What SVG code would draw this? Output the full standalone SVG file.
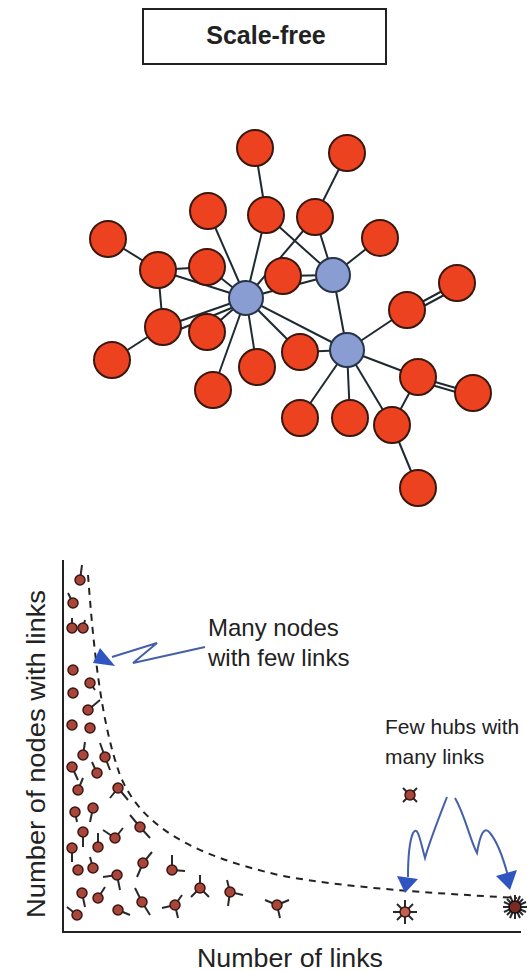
<svg xmlns="http://www.w3.org/2000/svg" width="530" height="973" viewBox="0 0 530 973">
<style>
.e{stroke:#1e2a30;stroke-width:2;fill:none}
.r{fill:#ec4220;stroke:#3a1810;stroke-width:2}
.b{fill:#8a9dd2;stroke:#26344a;stroke-width:2}
.t{font-family:"Liberation Sans",Arial,sans-serif;fill:#222}
.sp{stroke:#2a2a2a;stroke-width:2;fill:none}
.ax{stroke:#222;stroke-width:2;fill:none}
.bl{stroke:#4460a8;stroke-width:2;fill:none}
.ah{fill:#2f55c0}
</style>
<rect width="530" height="973" fill="#fff"/>
<g id="title">
<rect x="143" y="9" width="243" height="55" fill="#fff" stroke="#222" stroke-width="2"/>
<text class="t" x="266" y="44" font-size="25" font-weight="bold" text-anchor="middle">Scale-free</text>
</g>
<g id="edges">
<line class="e" x1="255" y1="148" x2="266" y2="215"/>
<line class="e" x1="347" y1="153" x2="315" y2="217"/>
<line class="e" x1="208" y1="211" x2="246" y2="298"/>
<line class="e" x1="266" y1="215" x2="246" y2="298"/>
<line class="e" x1="266" y1="215" x2="333" y2="275"/>
<line class="e" x1="315" y1="217" x2="246" y2="298"/>
<line class="e" x1="315" y1="217" x2="333" y2="275"/>
<line class="e" x1="380" y1="238" x2="333" y2="275"/>
<line class="e" x1="108" y1="239" x2="158" y2="270"/>
<line class="e" x1="158" y1="270" x2="207" y2="267"/>
<line class="e" x1="158" y1="270" x2="246" y2="298"/>
<line class="e" x1="158" y1="270" x2="163" y2="327"/>
<line class="e" x1="207" y1="267" x2="246" y2="298"/>
<line class="e" x1="283" y1="276" x2="333" y2="275"/>
<line class="e" x1="246" y1="298" x2="333" y2="275"/>
<line class="e" x1="163" y1="327" x2="246" y2="298"/>
<line class="e" x1="166" y1="335" x2="246" y2="302"/>
<line class="e" x1="207" y1="332" x2="246" y2="298"/>
<line class="e" x1="112" y1="360" x2="163" y2="327"/>
<line class="e" x1="213" y1="390" x2="246" y2="298"/>
<line class="e" x1="257" y1="367" x2="246" y2="298"/>
<line class="e" x1="300" y1="352" x2="246" y2="298"/>
<line class="e" x1="246" y1="298" x2="347" y2="350"/>
<line class="e" x1="333" y1="275" x2="347" y2="350"/>
<line class="e" x1="457" y1="283" x2="407" y2="310"/>
<line class="e" x1="459" y1="287" x2="409" y2="314"/>
<line class="e" x1="407" y1="310" x2="347" y2="350"/>
<line class="e" x1="300" y1="352" x2="347" y2="350"/>
<line class="e" x1="347" y1="350" x2="418" y2="377"/>
<line class="e" x1="418" y1="377" x2="473" y2="393"/>
<line class="e" x1="418" y1="381" x2="473" y2="397"/>
<line class="e" x1="418" y1="377" x2="392" y2="425"/>
<line class="e" x1="347" y1="350" x2="392" y2="425"/>
<line class="e" x1="347" y1="350" x2="350" y2="418"/>
<line class="e" x1="347" y1="350" x2="300" y2="418"/>
<line class="e" x1="392" y1="425" x2="418" y2="488"/>
</g>
<g id="n1"><circle class="r" cx="255" cy="148" r="18"/></g>
<g id="n2"><circle class="r" cx="347" cy="153" r="18"/></g>
<g id="n3"><circle class="r" cx="208" cy="211" r="18"/></g>
<g id="n4"><circle class="r" cx="266" cy="215" r="18"/></g>
<g id="n5"><circle class="r" cx="315" cy="217" r="18"/></g>
<g id="n6"><circle class="r" cx="380" cy="238" r="18"/></g>
<g id="n7"><circle class="r" cx="108" cy="239" r="18"/></g>
<g id="n8"><circle class="r" cx="158" cy="270" r="18"/></g>
<g id="n9"><circle class="r" cx="207" cy="267" r="18"/></g>
<g id="n10"><circle class="r" cx="283" cy="276" r="18"/></g>
<g id="n11"><circle class="r" cx="457" cy="283" r="18"/></g>
<g id="n12"><circle class="r" cx="407" cy="310" r="18"/></g>
<g id="n13"><circle class="r" cx="163" cy="327" r="18"/></g>
<g id="n14"><circle class="r" cx="207" cy="332" r="18"/></g>
<g id="n15"><circle class="r" cx="112" cy="360" r="18"/></g>
<g id="n16"><circle class="r" cx="300" cy="352" r="18"/></g>
<g id="n17"><circle class="r" cx="257" cy="367" r="18"/></g>
<g id="n18"><circle class="r" cx="213" cy="390" r="18"/></g>
<g id="n19"><circle class="r" cx="418" cy="377" r="18"/></g>
<g id="n20"><circle class="r" cx="473" cy="393" r="18"/></g>
<g id="n21"><circle class="r" cx="300" cy="418" r="18"/></g>
<g id="n22"><circle class="r" cx="350" cy="418" r="18"/></g>
<g id="n23"><circle class="r" cx="392" cy="425" r="18"/></g>
<g id="n24"><circle class="r" cx="418" cy="488" r="18"/></g>
<g id="hub1"><circle class="b" cx="246" cy="298" r="17"/></g>
<g id="hub2"><circle class="b" cx="333" cy="275" r="17"/></g>
<g id="hub3"><circle class="b" cx="347" cy="350" r="17"/></g>

<g id="plot">
<path class="ax" d="M63,560 V932 H521"/>
<text class="t" x="197" y="967" font-size="25" textLength="186" lengthAdjust="spacingAndGlyphs">Number of links</text>
<text class="t" transform="translate(45,918) rotate(-90)" font-size="26" textLength="328" lengthAdjust="spacingAndGlyphs">Number of nodes with links</text>
<path d="M88,575 C93,640 100,720 120,775 C140,825 190,855 283,876 C350,888 430,893 517,898" fill="none" stroke="#222" stroke-width="2" stroke-dasharray="7,6"/>
</g>

<g id="glyphs">
<path class="sp" d="M80,580 L82,565 M73,603 L68,593 M72,628 L72,618 M83,628 L85,620 M90,683 L95,690 M88,710 L100,700 M83,755 L85,742 M105,757 L100,743 M105,757 L110,770 M72,767 L78,780 M97,773 L92,762 M78,790 L83,778 M118,788 L110,798 M118,788 L128,800 M75,812 L77,822 M93,808 L90,822 M83,832 L83,847 M115,838 L103,830 M115,838 L123,828 M140,827 L130,815 M140,827 L150,838 M98,847 L98,833 M72,848 L72,862 M93,868 L90,857 M117,875 L103,877 M117,875 L120,890 M143,863 L152,852 M143,863 L137,877 M172,870 L172,855 M172,870 L185,871 M82,893 L85,907 M98,898 L105,887 M142,902 L135,888 M142,902 L150,915 M200,888 L200,875 M200,888 L191,897 M200,888 L209,897 M230,892 L227,880 M230,892 L228,906 M230,892 L243,895 M175,905 L162,908 M175,905 L182,895 M175,905 L178,918 M118,910 L130,915 M77,915 L67,907 M277,905 L265,900 M277,905 L289,900 M277,905 L280,918"/>
<g fill="#a8463c" stroke="#3a1612" stroke-width="1.5">
<circle cx="80" cy="580" r="5"/><circle cx="73" cy="603" r="5"/><circle cx="72" cy="628" r="5"/><circle cx="83" cy="628" r="5"/>
<circle cx="73" cy="670" r="5"/><circle cx="90" cy="683" r="5"/><circle cx="73" cy="693" r="5"/><circle cx="88" cy="710" r="5"/>
<circle cx="72" cy="725" r="5"/><circle cx="90" cy="728" r="5"/><circle cx="83" cy="755" r="5"/><circle cx="105" cy="757" r="5"/>
<circle cx="72" cy="767" r="5"/><circle cx="97" cy="773" r="5"/><circle cx="78" cy="790" r="5"/><circle cx="118" cy="788" r="5"/>
<circle cx="75" cy="812" r="5"/><circle cx="93" cy="808" r="5"/><circle cx="83" cy="832" r="5"/><circle cx="115" cy="838" r="5"/>
<circle cx="140" cy="827" r="5"/><circle cx="98" cy="847" r="5"/><circle cx="72" cy="848" r="5"/><circle cx="78" cy="870" r="5"/>
<circle cx="93" cy="868" r="5"/><circle cx="117" cy="875" r="5"/><circle cx="143" cy="863" r="5"/><circle cx="172" cy="870" r="5"/>
<circle cx="82" cy="893" r="5"/><circle cx="98" cy="898" r="5"/><circle cx="142" cy="902" r="5"/><circle cx="200" cy="888" r="5"/>
<circle cx="230" cy="892" r="5"/><circle cx="175" cy="905" r="5"/><circle cx="118" cy="910" r="5"/><circle cx="77" cy="915" r="5"/>
<circle cx="277" cy="905" r="5"/>
</g>
<path class="sp" d="M403,788 L417,802 M417,788 L403,802"/>
<circle cx="410" cy="795" r="5" fill="#a8463c" stroke="#3a1612" stroke-width="1.5"/>
<path class="sp" stroke="#555" d="M405,900 V924 M393,912 H417 M397,904 L413,920 M413,904 L397,920"/>
<circle cx="405" cy="912" r="5" fill="#c06050" stroke="#3a1612" stroke-width="1.5"/>
<path class="sp" stroke="#111" d="M515,895 V919 M503,907 H527 M507,899 L523,915 M523,899 L507,915 M510,896 L520,918 M520,896 L510,918 M504,902 L526,912 M526,902 L504,912"/>
<circle cx="515" cy="907" r="6" fill="#7a2a20" stroke="#111" stroke-width="1.5"/>
</g>

<g id="ann1">
<text class="t" x="208" y="636" font-size="24">Many nodes</text>
<text class="t" x="208" y="666" font-size="24">with few links</text>
<path class="bl" d="M112,657 L157,643 L133,663 L205,647"/>
<polygon class="ah" points="93,663 100,648 115,666"/>
</g>
<g id="ann2">
<text class="t" x="385" y="734" font-size="21">Few hubs with</text>
<text class="t" x="385" y="764" font-size="21">many links</text>
<path class="bl" d="M447,797 C440,815 430,840 425,858 C420,840 418,825 413,833 C408,845 408,865 408,877"/>
<path class="bl" d="M455,798 C465,815 470,840 477,853 C480,835 484,825 490,833 C500,845 505,865 508,876"/>
<polygon class="ah" points="405,893 397,876 418,879"/>
<polygon class="ah" points="510,890 496,876 517,870"/>
</g>
</svg>
